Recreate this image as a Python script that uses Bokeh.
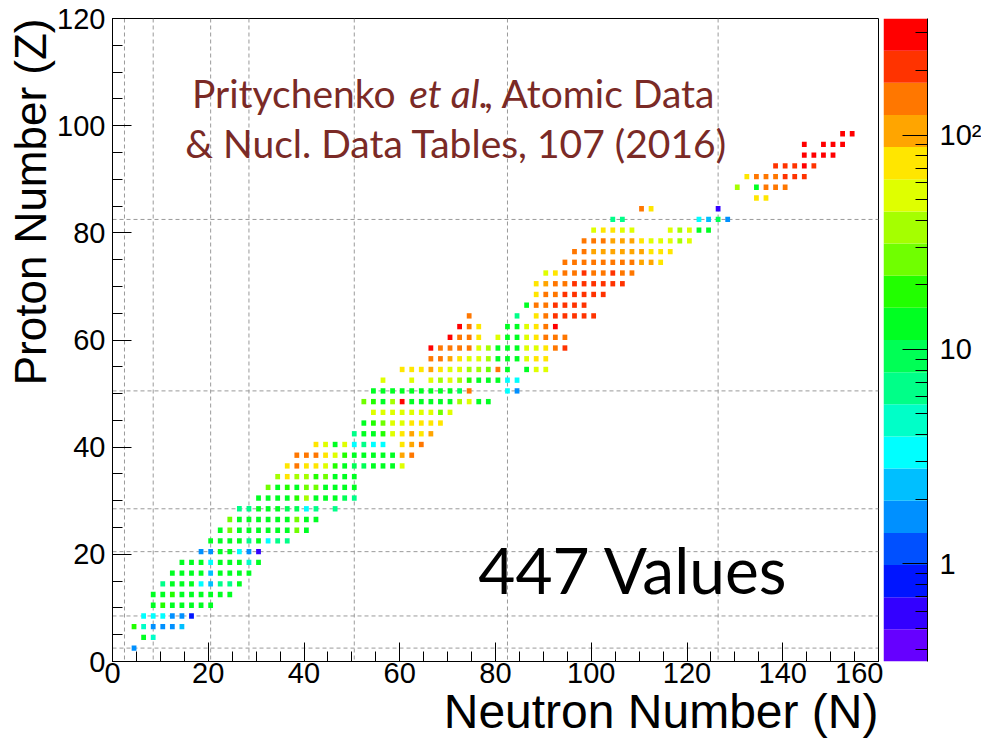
from math import pi, log10
from bokeh.plotting import figure
from bokeh.layouts import row
from bokeh.models import (ColumnDataSource, LogColorMapper, FixedTicker, Title,
                          SingleIntervalTicker, Span, Label, Range1d, CustomJSTickFormatter)
from bokeh.embed import file_html
from bokeh.resources import INLINE

# ---------------- data ----------------
row_z = [2, 4, 6, 8, 10, 12, 14, 16, 18, 20, 22, 24, 26, 28, 30, 32, 34, 36, 38, 40,
         42, 44, 46, 48, 50, 52, 54, 56, 58, 60, 62, 64, 66, 68, 70, 72, 74, 76, 78, 80,
         82, 84, 86, 88, 90, 92, 94, 96, 98]

row_n = [
    [4],
    [6, 8],
    [4, 6, 8, 10, 12, 14],
    [6, 8, 10, 12, 14, 16],
    [8, 10, 12, 14, 16, 18, 20],
    [8, 10, 12, 14, 16, 18, 20, 22, 24],
    [10, 12, 14, 16, 18, 20, 22, 24, 26],
    [12, 14, 16, 18, 20, 22, 24, 26, 28],
    [14, 16, 18, 20, 22, 24, 26, 28, 30],
    [18, 20, 22, 24, 26, 28, 30],
    [20, 22, 24, 26, 28, 30, 32, 34, 36],
    [22, 24, 26, 28, 30, 32, 34, 36, 38, 40],
    [24, 26, 28, 30, 32, 34, 36, 38, 40, 42],
    [26, 28, 30, 32, 34, 36, 38, 40, 42, 46],
    [30, 32, 34, 36, 38, 40, 42, 44, 46, 48, 50],
    [32, 34, 36, 38, 40, 42, 44, 46, 48, 50],
    [34, 36, 38, 40, 42, 44, 46, 48, 50],
    [36, 38, 40, 42, 44, 46, 48, 50, 52, 54, 56, 58, 60],
    [38, 40, 42, 44, 46, 48, 50, 52, 54, 56, 58, 60, 62],
    [42, 44, 46, 48, 50, 52, 54, 56, 60, 62, 64],
    [50, 52, 54, 56, 58, 60, 62, 64, 66],
    [52, 54, 56, 58, 60, 62, 64, 66, 68],
    [54, 56, 58, 60, 62, 64, 66, 68, 70],
    [52, 54, 56, 58, 60, 62, 64, 66, 68, 70, 72, 74, 76, 78],
    [54, 56, 58, 60, 62, 64, 66, 68, 70, 72, 74, 82, 84],
    [56, 62, 66, 68, 70, 72, 74, 76, 78, 80, 82, 84],
    [60, 62, 64, 66, 68, 70, 72, 74, 76, 78, 80, 82, 86, 88, 90],
    [66, 68, 70, 72, 74, 76, 78, 80, 82, 84, 86, 88, 90],
    [66, 68, 70, 72, 74, 76, 78, 80, 82, 84, 86, 88, 90, 92, 94],
    [70, 72, 74, 76, 80, 82, 84, 86, 88, 90, 92, 94],
    [72, 74, 76, 82, 84, 86, 88, 90, 92],
    [74, 84, 88, 90, 92, 94, 96, 98, 100],
    [86, 88, 90, 92, 94, 96, 98],
    [88, 90, 92, 94, 96, 98, 100, 102],
    [88, 90, 92, 94, 96, 98, 100, 102, 104, 106],
    [90, 92, 94, 96, 98, 100, 102, 104, 106, 108],
    [94, 96, 98, 100, 102, 104, 106, 108, 110, 112, 114],
    [96, 98, 100, 102, 104, 106, 108, 110, 112, 114, 116],
    [98, 100, 102, 104, 106, 108, 110, 112, 114, 116, 118, 120],
    [100, 102, 104, 106, 108, 116, 118, 120, 122, 124],
    [104, 106, 122, 124, 126, 128],
    [110, 112, 126],
    [134, 136],
    [130, 134, 136, 138, 140],
    [132, 134, 136, 138, 140, 142, 144],
    [138, 140, 142, 144, 146],
    [144, 146, 148, 150],
    [144, 148, 150, 152],
    [152, 154],
]

row_value = [
    [1.6],
    [14, 5.0],
    [16, 4.2, 1.5, 1.6, 1.7, 2.4],
    [3.2, 3.0, 2.9, 1.6, 1.5, 0.75],
    [14, 16, 13, 14, 15, 13, 12],
    [13, 15, 18, 14, 13, 14, 15, 13, 14],
    [6.5, 14, 13, 12, 3.5, 2.3, 7.0, 6.5, 12],
    [14, 13, 15, 14, 2.5, 12, 13, 14, 12],
    [13, 14, 12, 3.5, 13, 14, 12, 4.0, 13],
    [1.6, 1.8, 13, 12, 3.3, 1.5, 0.6],
    [13, 14, 14, 13, 7.0, 13, 3.5, 6.5, 7.0],
    [13, 26, 14, 13, 14, 15, 14, 13, 26, 14],
    [30, 14, 13, 14, 14, 15, 14, 28, 14, 13],
    [7, 7, 13, 14, 13, 8, 8, 3.5, 7, 7],
    [13, 14, 15, 14, 16, 40, 15, 14, 13, 8, 7],
    [30, 15, 16, 14, 28, 30, 14, 13, 13, 12],
    [40, 65, 35, 35, 16, 30, 14, 14, 13],
    [70, 130, 68, 66, 45, 16, 14, 8, 8, 13, 14, 14, 45],
    [140, 135, 130, 70, 45, 16, 14, 13, 14, 14, 15, 120, 130],
    [70, 50, 15, 45, 3.3, 7, 3.3, 3.3, 70, 110, 140],
    [7, 14, 15, 16, 45, 70, 105, 80, 110],
    [15, 18, 30, 45, 50, 65, 70, 70, 65],
    [45, 48, 50, 52, 50, 48, 50, 30, 45],
    [26, 16, 15, 35, 300, 14, 15, 14, 13, 14, 40, 45, 15, 13],
    [14, 13, 14, 13, 14, 13, 13, 12, 13, 8, 150, 3.3, 1.6],
    [45, 45, 45, 40, 45, 40, 16, 15, 14, 13, 3.3, 3.3],
    [70, 72, 75, 110, 72, 50, 45, 40, 35, 26, 130, 14, 14, 45, 48],
    [130, 125, 120, 75, 50, 45, 40, 15, 14, 14, 45, 70, 75],
    [260, 140, 135, 130, 125, 45, 40, 14, 13, 14, 45, 50, 75, 140, 200],
    [280, 140, 130, 75, 45, 14, 14, 45, 70, 130, 140, 150],
    [260, 140, 75, 14, 15, 45, 75, 140, 270],
    [140, 7, 75, 140, 200, 210, 220, 210, 200],
    [14, 140, 140, 210, 220, 220, 210],
    [75, 150, 140, 210, 220, 220, 210, 210],
    [72, 110, 150, 160, 210, 220, 210, 200, 210, 200],
    [50, 75, 150, 160, 200, 150, 150, 200, 150, 140],
    [150, 150, 155, 150, 150, 150, 145, 140, 110, 105, 75],
    [150, 130, 115, 110, 110, 105, 100, 95, 75, 72, 70],
    [150, 160, 150, 110, 105, 100, 75, 55, 50, 48, 40, 45],
    [50, 70, 72, 55, 50, 48, 38, 45, 14, 15],
    [7, 7, 3.3, 2.3, 8, 1.7],
    [140, 70, 0.6],
    [72, 70],
    [40, 14, 140, 145, 140],
    [75, 145, 140, 150, 200, 210, 200],
    [210, 200, 210, 280, 210],
    [290, 290, 300, 290],
    [290, 300, 290, 300],
    [300, 290],
]

magic_numbers = [2, 8, 20, 28, 50, 82, 126]
colorbar_ticks = [1, 10, 100]
colorbar_minor = [0.4, 0.5, 0.6, 0.7, 0.8, 0.9, 2, 3, 4, 5, 6, 7, 8, 9,
                  20, 30, 40, 50, 60, 70, 80, 90, 200, 300]
color_low, color_high = 0.35, 350

palette = ["#6600ff", "#3300ff", "#0015ff", "#0050ff", "#0090ff", "#00bfff",
           "#00ffff", "#00ffc8", "#00ff88", "#00ff55", "#00ff22", "#22ff00",
           "#70ff00", "#a5ff00", "#dfff00", "#ffe600", "#ffa500", "#ff7700",
           "#ff3300", "#ff0000"]

# ---------------- build ----------------
left, right, bottom, top, vals = [], [], [], [], []
for z, ns, vs in zip(row_z, row_n, row_value):
    for n, v in zip(ns, vs):
        left.append(n)
        right.append(n + 1)
        bottom.append(z)
        top.append(z + 1)
        vals.append(v)
src = ColumnDataSource(dict(left=left, right=right, bottom=bottom, top=top, v=vals))

mapper = LogColorMapper(palette=palette, low=color_low, high=color_high)

FONT = "Liberation Sans"

p = figure(frame_width=766, frame_height=643,
           x_range=Range1d(0, 160), y_range=Range1d(0, 120),
           output_backend="svg", toolbar_location=None,
           min_border_left=112, min_border_right=5,
           min_border_top=18, min_border_bottom=80,
           background_fill_color="white", border_fill_color="white")
p.grid.visible = False
p.outline_line_color = "black"
p.outline_line_width = 1

for m in magic_numbers:
    p.add_layout(Span(location=m + 0.5, dimension="height", line_color="#9a9a9a",
                      line_dash="4 3", line_width=1, level="underlay"))
    if m <= 120:
        p.add_layout(Span(location=m + 0.5, dimension="width", line_color="#9a9a9a",
                          line_dash="4 3", line_width=1, level="underlay"))

p.quad(left="left", right="right", bottom="bottom", top="top", source=src,
       fill_color={"field": "v", "transform": mapper}, line_color=None)

for ax in (p.xaxis[0], p.yaxis[0]):
    ax.ticker = SingleIntervalTicker(interval=20, num_minor_ticks=4)
    ax.major_tick_in = 19
    ax.major_tick_out = 0
    ax.minor_tick_in = 10
    ax.minor_tick_out = 0
    ax.major_tick_line_color = "black"
    ax.minor_tick_line_color = "black"
    ax.axis_line_color = "black"
    ax.major_label_text_font = FONT
    ax.major_label_text_font_size = "29px"
    ax.major_label_text_color = "black"
p.xaxis[0].major_label_standoff = 1
p.yaxis[0].major_label_standoff = 7

# axis titles (ROOT style: aligned to the far end of the axis)
p.add_layout(Title(text="Neutron Number (N)", align="right", text_font=FONT,
                   text_font_size="48px", text_font_style="normal", text_color="black",
                   standoff=-6), "below")
p.add_layout(Title(text="Proton Number (Z)", align="right", text_font=FONT,
                   text_font_size="44px", text_font_style="normal", text_color="black",
                   standoff=0), "left")

# reference text
ref_color = "#7a2a26"
p.add_layout(Label(x=16.6, y=106.1, text="Pritychenko", text_font="Lato",
                   text_font_size="39px", text_color=ref_color, text_baseline="alphabetic"))
p.add_layout(Label(x=62.0, y=106.1, text="et al.", text_font="Lato", text_font_style="italic",
                   text_font_size="39px", text_color=ref_color, text_baseline="alphabetic"))
p.add_layout(Label(x=77.6, y=106.1, text=", Atomic Data", text_font="Lato",
                   text_font_size="39px", text_color=ref_color, text_baseline="alphabetic"))
p.add_layout(Label(x=71.8, y=96.7, text="& Nucl. Data Tables, 107 (2016)", text_font="Lato",
                   text_font_size="39px", text_color=ref_color, text_align="center",
                   text_baseline="alphabetic"))

p.add_layout(Label(x=76.4, y=17.1, text="447 Values", text_font="Lato",
                   text_font_size="64px", text_color="black", text_baseline="alphabetic"))

# ---------------- colour scale ----------------
edges = [10 ** (log10(color_low) + k * (log10(color_high) - log10(color_low)) / len(palette))
         for k in range(len(palette) + 1)]
cb_src = ColumnDataSource(dict(bottom=edges[:-1], top=edges[1:], color=palette))

cb = figure(frame_width=44, frame_height=643, x_range=Range1d(0, 1),
            y_range=Range1d(color_low, color_high), y_axis_type="log",
            y_axis_location="right", output_backend="svg", toolbar_location=None,
            min_border_left=0, min_border_right=0, min_border_top=18, min_border_bottom=80,
            background_fill_color="white", border_fill_color="white")
cb.quad(left=0, right=1, bottom="bottom", top="top", fill_color="color",
        line_color=None, source=cb_src)
cb.grid.visible = False
cb.outline_line_color = None
cb.xaxis.visible = False
ya = cb.yaxis[0]
ya.ticker = FixedTicker(ticks=colorbar_ticks, minor_ticks=colorbar_minor)
ya.formatter = CustomJSTickFormatter(code="""
    if (Math.abs(tick - 100) < 1e-6) return '10\u00b2';
    if (Math.abs(tick - 10) < 1e-6) return '10';
    if (Math.abs(tick - 1) < 1e-6) return '1';
    return '';""")
ya.major_tick_in = 25
ya.major_tick_out = 0
ya.minor_tick_in = 12
ya.minor_tick_out = 0
ya.major_tick_line_color = "black"
ya.minor_tick_line_color = "black"
ya.axis_line_color = "black"
ya.major_label_standoff = 12
ya.major_label_text_font = FONT
ya.major_label_text_font_size = "29px"
ya.major_label_text_color = "black"

layout = row(p, cb)
open("out.html", "w").write(file_html(layout, INLINE))
